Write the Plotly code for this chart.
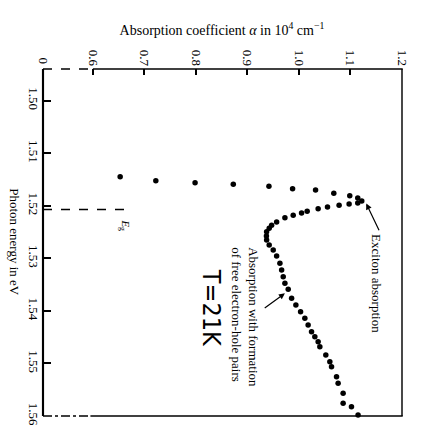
import plotly.graph_objects as go

# ---- data ----
energy_eV = [1.51446, 1.51522, 1.51560, 1.51591, 1.51629, 1.51675, 1.51699, 1.51762,
             1.51808, 1.51852, 1.51909, 1.51947,
             1.51966, 1.51990, 1.52023, 1.52055, 1.52105, 1.52137, 1.52181, 1.52226,
             1.52308, 1.52371, 1.52428, 1.52493, 1.52575, 1.52651, 1.52746, 1.52841,
             1.52955, 1.53094, 1.53222, 1.53349, 1.53475, 1.53589, 1.53760, 1.53888,
             1.54015, 1.54141, 1.54268, 1.54396, 1.54491, 1.54586, 1.54681, 1.54839,
             1.54967, 1.55062, 1.55252, 1.55378, 1.55568, 1.55758, 1.55823, 1.55980]
alpha_1e4 = [0.6529, 0.7221, 0.7983, 0.8725, 0.9417, 0.9876, 1.0322, 1.0676,
             1.0986, 1.1141, 1.1219, 1.1141,
             1.0973, 1.0779, 1.0554, 1.0372, 1.0159, 1.0050, 0.9888, 0.9727,
             0.9566, 0.9469, 0.9422, 0.9372, 0.9368, 0.9372, 0.9422, 0.9500,
             0.9566, 0.9630, 0.9663, 0.9694, 0.9727, 0.9791, 0.9857, 0.9940,
             1.0031, 1.0114, 1.0178, 1.0244, 1.0308, 1.0372, 1.0405, 1.0521,
             1.0599, 1.0632, 1.0729, 1.0760, 1.0857, 1.0857, 1.1019, 1.1147]

alpha_tick_vals = [0.6, 0.7, 0.8, 0.9, 1.0, 1.1, 1.2]
alpha_tick_text = ["0.6", "0.7", "0.8", "0.9", "1.0", "1.1", "1.2"]
energy_tick_vals = [1.50, 1.51, 1.52, 1.53, 1.54, 1.55, 1.56]
energy_tick_text = ["1.50", "1.51", "1.52", "1.53", "1.54", "1.55", "1.56"]
E_gap = 1.5207

ALPHA_ZERO_POS = 0.5031
X_RANGE = [ALPHA_ZERO_POS, 1.2]
Y_TOP, Y_BOT = 1.49397, 1.56
ALPHA_BREAK = 0.6
BREAK_FRAC = (ALPHA_BREAK - X_RANGE[0]) / (X_RANGE[1] - X_RANGE[0])

FONT = "Liberation Serif"
BLACK = "#000000"

fig = go.Figure()
fig.add_trace(go.Scatter(
    x=alpha_1e4, y=energy_eV, mode="markers",
    marker=dict(size=5.5, color=BLACK), cliponaxis=False, showlegend=False))

shapes = [
    dict(type="rect", xref="paper", yref="paper", x0=-0.003, x1=0.003, y0=0, y1=1,
         fillcolor=BLACK, line=dict(width=0), layer="above"),
    dict(type="rect", xref="paper", yref="paper", x0=0.998, x1=1.002, y0=0, y1=1,
         fillcolor=BLACK, line=dict(width=0), layer="above"),
    dict(type="rect", xref="paper", yref="paper", x0=BREAK_FRAC, x1=1.002, y0=0.998, y1=1.002,
         fillcolor=BLACK, line=dict(width=0), layer="above"),
    dict(type="rect", xref="paper", yref="paper", x0=BREAK_FRAC * 0.95, x1=1.002, y0=-0.002, y1=0.002,
         fillcolor=BLACK, line=dict(width=0), layer="above"),
    dict(type="line", xref="paper", yref="paper", x0=0, x1=BREAK_FRAC, y0=1, y1=1,
         line=dict(color=BLACK, width=1.5, dash="dash"), layer="above"),
    dict(type="line", xref="paper", yref="paper", x0=0, x1=BREAK_FRAC * 0.95, y0=0, y1=0,
         line=dict(color=BLACK, width=1.5, dash="dashdot"), layer="above"),
    dict(type="line", xref="x", yref="y", x0=X_RANGE[0], x1=0.6762, y0=E_gap, y1=E_gap,
         line=dict(color=BLACK, width=1.5, dash="dash"), layer="above"),
]

annotations = [
    dict(x=ALPHA_ZERO_POS, y=Y_TOP, xref="x", yref="y", text="0", showarrow=False,
         textangle=90, xanchor="center", yanchor="bottom", yshift=3,
         font=dict(family=FONT, size=13, color=BLACK)),
    dict(x=-0.08, y=0.5, xref="paper", yref="paper", text="Photon energy in eV",
         showarrow=False, textangle=90, xanchor="center", yanchor="middle",
         font=dict(family=FONT, size=13, color=BLACK)),
    dict(x=0.663, y=1.5238, xref="x", yref="y", text="<i>E</i><sub>g</sub>",
         showarrow=False, textangle=90, xanchor="center", yanchor="middle",
         font=dict(family=FONT, size=11, color=BLACK)),
    dict(x=1.1306, y=1.51956, ax=1.1568, ay=1.52493, xref="x", yref="y", axref="x", ayref="y",
         text="", showarrow=True, arrowhead=2, arrowsize=1, arrowwidth=1.2, arrowcolor=BLACK),
    dict(x=1.1505, y=1.5250, xref="x", yref="y", text="Exciton absorption",
         showarrow=False, textangle=90, xanchor="center", yanchor="top",
         font=dict(family=FONT, size=13, color=BLACK)),
    dict(x=0.9727, y=1.53665, ax=0.9306, ay=1.53964, xref="x", yref="y", axref="x", ayref="y",
         text="", showarrow=True, arrowhead=2, arrowsize=1, arrowwidth=1.2, arrowcolor=BLACK),
    dict(x=0.8953, y=1.5275, xref="x", yref="y",
         text="Absorption with formation<br>of free electron-hole pairs",
         showarrow=False, textangle=90, xanchor="center", yanchor="top", align="left",
         font=dict(family=FONT, size=13, color=BLACK)),
    dict(x=0.830, y=1.5395, xref="x", yref="y", text="T=21K",
         showarrow=False, textangle=90, xanchor="center", yanchor="middle",
         font=dict(family="DejaVu Sans Condensed, DejaVu Sans", size=25, color=BLACK)),
]

fig.update_layout(
    width=421, height=439,
    margin=dict(l=43, r=19, t=69, b=23),
    paper_bgcolor="white", plot_bgcolor="white",
    title=dict(text="Absorption coefficient <i>α</i> in 10<sup>4</sup> cm<sup>−1</sup>",
               x=222 / 421, y=1 - 30 / 439, xanchor="center", yanchor="middle",
               font=dict(family=FONT, size=14, color=BLACK)),
    xaxis=dict(range=X_RANGE, side="top", tickvals=alpha_tick_vals, ticktext=alpha_tick_text,
               tickangle=90, ticks="inside", ticklen=6, tickwidth=1.5, tickcolor=BLACK,
               showgrid=False, zeroline=False, showline=False,
               tickfont=dict(family=FONT, size=13, color=BLACK)),
    yaxis=dict(range=[Y_BOT, Y_TOP], tickvals=energy_tick_vals, ticktext=energy_tick_text,
               tickangle=90, ticks="inside", ticklen=8, tickwidth=1.5, tickcolor=BLACK,
               showgrid=False, zeroline=False, showline=False,
               tickfont=dict(family=FONT, size=13, color=BLACK)),
    shapes=shapes, annotations=annotations,
)

fig.write_html("out.html")
